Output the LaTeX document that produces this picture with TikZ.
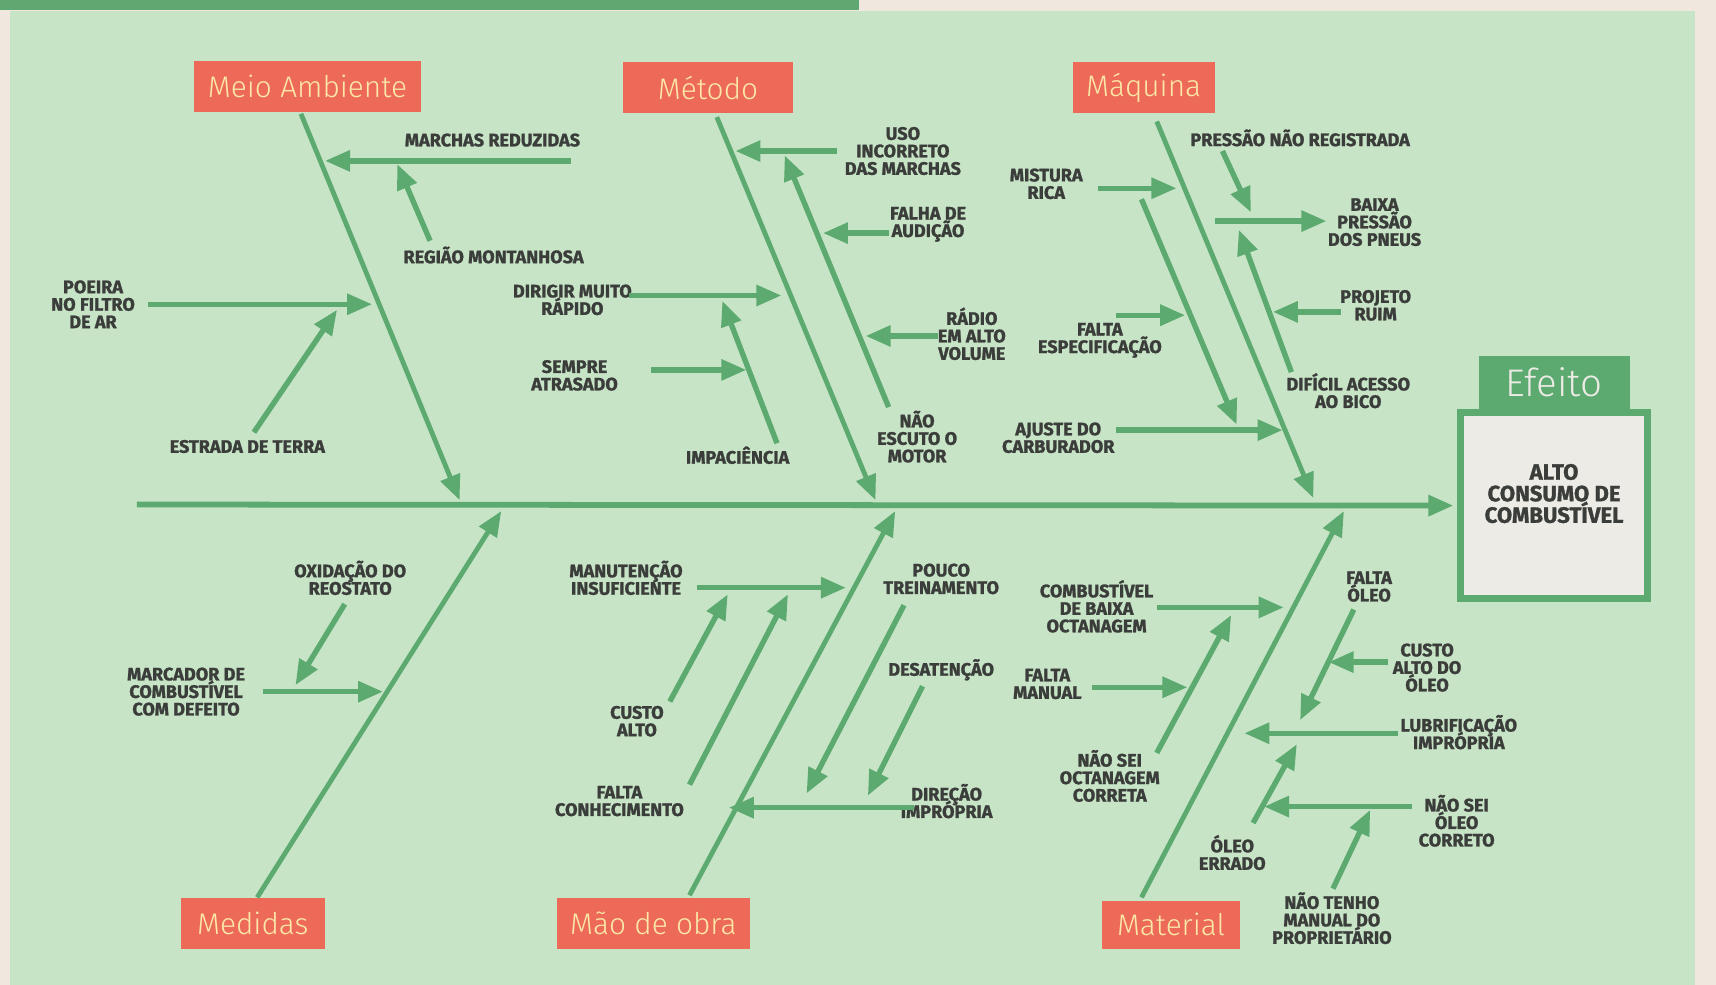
\documentclass[tikz,border=0pt]{standalone}
\usepackage{fontspec}
\newfontfamily\causefont[BoldFeatures={FakeBold=1.3}]{Fira Sans}
\newfontfamily\catfont{Fira Sans Light}
\usetikzlibrary{arrows.meta}

\definecolor{mint}{HTML}{C7E4C6}
\definecolor{bone}{HTML}{5CAA70}
\definecolor{salmon}{HTML}{EC6A57}
\definecolor{pale}{HTML}{FBE7A8}
\definecolor{ink}{HTML}{3B3D3B}
\definecolor{paper}{HTML}{F0E8DF}
\definecolor{band}{HTML}{5FA872}
\definecolor{effill}{HTML}{EDEBE6}

\tikzset{
  cause/.style={font=\causefont\bfseries\fontsize{9.4}{9.1}\selectfont,
    text=ink, align=center, inner sep=0pt,
    execute at begin node=\setlength{\lineskiplimit}{-6pt}},
  cat/.style={fill=salmon, text=pale, inner sep=0pt, minimum height=0.94cm,
    font=\catfont\fontsize{15.5}{15.5}\selectfont},
  sub/.style={color=bone, line width=2.8pt, -{Triangle[length=13pt,width=10.5pt]}},
  spine/.style={sub, line width=3pt, shorten >=2pt}
}

\begin{document}
\begin{tikzpicture}[x=0.02cm, y=-0.02cm]
    \useasboundingbox (0,0) rectangle (1568,900);
    \fill[paper] (0,0) rectangle (1568,900);
    \fill[mint] (9,10) rectangle (1549,900);
    \fill[band] (0,0) rectangle (785,9);

    % categorias
    \node[cat, minimum width=4.16cm] (meio)     at (281,79)  {Meio Ambiente};
    \node[cat, minimum width=3.12cm] (metodo)   at (647,80)  {Método};
    \node[cat, minimum width=2.6cm]  (maquina)  at (1045,80) {Máquina};
    \node[cat, minimum width=2.64cm] (medidas)  at (231,844) {Medidas};
    \node[cat, minimum width=3.54cm] (maoobra)  at (597,844) {Mão de obra};
    \node[cat, minimum width=2.52cm, minimum height=0.88cm] (material) at (1070,845) {Material};

    % efeito
    \node[draw=bone, fill=effill, line width=3.4pt, minimum width=3.42cm,
      minimum height=3.4cm] (alvo) at (1420,462) {};
    \node[align=center, text=ink, inner sep=0pt,
      font=\causefont\bfseries\fontsize{11.5}{11.2}\selectfont,
      execute at begin node=\setlength{\lineskiplimit}{-6pt}] (alvotxt) at (1420,451)
      {ALTO\\CONSUMO DE\\COMBUSTÍVEL};
    \node[fill=bone, text=effill, minimum width=2.76cm, minimum height=0.96cm,
      inner sep=0pt, font=\catfont\fontsize{20}{20}\selectfont,
      anchor=south] (efeito) at (alvo.north) {Efeito};

    % espinha
    \coordinate (cauda) at (125,461);
    \draw[spine] (cauda) -- (alvo.west);

    \coordinate (meio-a) at (275,104);     \coordinate (meio-b) at (420,457);
    \coordinate (metodo-a) at (655,107);   \coordinate (metodo-b) at (800,457);
    \coordinate (maquina-a) at (1057,111); \coordinate (maquina-b) at (1200,455);
    \coordinate (medidas-a) at (235,820);  \coordinate (medidas-b) at (458,467);
    \coordinate (maoobra-a) at (630,818);  \coordinate (maoobra-b) at (818,467);
    \coordinate (material-a) at (1043,820);\coordinate (material-b) at (1228,467);
    \path[sub, line width=2.5pt]
      (meio-a) edge (meio-b)
      (metodo-a) edge (metodo-b)
      (maquina-a) edge (maquina-b)
      (medidas-a) edge (medidas-b)
      (maoobra-a) edge (maoobra-b)
      (material-a) edge (material-b);

    % meio ambiente
    \node[cause] (marchas) at (450,128) {MARCHAS REDUZIDAS};
    \node[cause] (regiao)  at (451,233) {REGIÃO MONTANHOSA};
    \node[cause] (poeira)  at (85,278)  {POEIRA\\NO FILTRO\\DE AR};
    \node[cause] (estrada) at (226,408) {ESTRADA DE TERRA};
    \coordinate (marchas-a) at (522,147); \coordinate (marchas-b) at (297,147);
    \coordinate (regiao-a) at (393,220);  \coordinate (regiao-b) at (363,150);
    \coordinate (poeira-a) at (135,278);  \coordinate (poeira-b) at (340,278);
    \coordinate (estrada-a) at (232,395); \coordinate (estrada-b) at (308,283);

    % metodo
    \node[cause] (uso)     at (825,138) {USO\\INCORRETO\\DAS MARCHAS};
    \node[cause] (falha)   at (848,205) {FALHA DE\\AUDIÇÃO};
    \node[cause] (radio)   at (888,305) {RÁDIO\\EM ALTO\\VOLUME};
    \node[cause] (escuto)  at (838,399) {NÃO\\ESCUTO O\\MOTOR};
    \node[cause] (dirigir) at (523,274) {DIRIGIR MUITO\\RÁPIDO};
    \node[cause] (sempre)  at (525,343) {SEMPRE\\ATRASADO};
    \node[cause] (impac)   at (674,416) {IMPACIÊNCIA};
    \coordinate (uso-a) at (765,138);     \coordinate (uso-b) at (672,138);
    \coordinate (escuto-a) at (812,372);  \coordinate (escuto-b) at (717,142);
    \coordinate (falha-a) at (812,213);   \coordinate (falha-b) at (752,213);
    \coordinate (radio-a) at (857,307);   \coordinate (radio-b) at (791,307);
    \coordinate (dirigir-a) at (575,270); \coordinate (dirigir-b) at (714,270);
    \coordinate (sempre-a) at (595,338);  \coordinate (sempre-b) at (682,338);
    \coordinate (impac-a) at (710,405);   \coordinate (impac-b) at (660,275);

    % maquina
    \node[cause] (pressao)  at (1188,126) {PRESSÃO NÃO REGISTRADA};
    \node[cause] (baixa)    at (1256,203) {BAIXA\\PRESSÃO\\DOS PNEUS};
    \node[cause] (mistura)  at (956,168)  {MISTURA\\RICA};
    \node[cause] (espec)    at (1005,311) {FALTA\\ESPECIFICAÇÃO};
    \node[cause] (ajuste)   at (967,400)  {AJUSTE DO\\CARBURADOR};
    \node[cause] (projeto)  at (1257,279) {PROJETO\\RUIM};
    \node[cause] (dificil)  at (1232,357) {DIFÍCIL ACESSO\\AO BICO};
    \coordinate (pressao-a) at (1117,138); \coordinate (pressao-b) at (1143,194);
    \coordinate (baixa-a) at (1110,202);   \coordinate (baixa-b) at (1212,202);
    \coordinate (mistura-a) at (1003,172); \coordinate (mistura-b) at (1075,172);
    \coordinate (rica-a) at (1043,182);    \coordinate (rica-b) at (1130,388);
    \coordinate (espec-a) at (1020,288);   \coordinate (espec-b) at (1083,288);
    \coordinate (ajuste-a) at (1020,393);  \coordinate (ajuste-b) at (1172,393);
    \coordinate (projeto-a) at (1225,285); \coordinate (projeto-b) at (1163,285);
    \coordinate (dificil-a) at (1180,340); \coordinate (dificil-b) at (1132,210);

    % medidas
    \node[cause] (oxid)     at (320,528) {OXIDAÇÃO DO\\REOSTATO};
    \node[cause] (marcador) at (170,632) {MARCADOR DE\\COMBUSTÍVEL\\COM DEFEITO};
    \coordinate (oxid-a) at (315,552);     \coordinate (oxid-b) at (270,626);
    \coordinate (marcador-a) at (240,632); \coordinate (marcador-b) at (350,632);

    % mao de obra
    \node[cause] (manut)   at (572,528) {MANUTENÇÃO\\INSUFICIENTE};
    \node[cause] (custo)   at (582,659) {CUSTO\\ALTO};
    \node[cause] (conhec)  at (566,732) {FALTA\\CONHECIMENTO};
    \node[cause] (pouco)   at (860,529) {POUCO\\TREINAMENTO};
    \node[cause] (desat)   at (860,612) {DESATENÇÃO};
    \node[cause] (direcao) at (865,732) {DIREÇÃO\\IMPRÓPRIA};
    \coordinate (manut-a) at (637,537);   \coordinate (manut-b) at (773,537);
    \coordinate (custo-a) at (612,641);   \coordinate (custo-b) at (665,543);
    \coordinate (conhec-a) at (630,717);  \coordinate (conhec-b) at (720,543);
    \coordinate (pouco-a) at (826,553);   \coordinate (pouco-b) at (737,725);
    \coordinate (desat-a) at (843,627);   \coordinate (desat-b) at (793,727);
    \coordinate (direcao-a) at (835,738); \coordinate (direcao-b) at (666,738);

    % material
    \node[cause] (octan)    at (1002,554) {COMBUSTÍVEL\\DE BAIXA\\OCTANAGEM};
    \node[cause] (manual)   at (957,625)  {FALTA\\MANUAL};
    \node[cause] (naosei)   at (1014,709) {NÃO SEI\\OCTANAGEM\\CORRETA};
    \node[cause] (faltaol)  at (1251,536) {FALTA\\ÓLEO};
    \node[cause] (custool)  at (1304,610) {CUSTO\\ALTO DO\\ÓLEO};
    \node[cause] (lubri)    at (1333,669) {LUBRIFICAÇÃO\\IMPRÓPRIA};
    \node[cause] (errado)   at (1126,779) {ÓLEO\\ERRADO};
    \node[cause] (correto)  at (1331,750) {NÃO SEI\\ÓLEO\\CORRETO};
    \node[cause] (naotenho) at (1217,839) {NÃO TENHO\\MANUAL DO\\PROPRIETÁRIO};
    \coordinate (octan-a) at (1057,555);    \coordinate (octan-b) at (1173,555);
    \coordinate (manual-a) at (998,628);    \coordinate (manual-b) at (1085,628);
    \coordinate (naosei-a) at (1057,688);   \coordinate (naosei-b) at (1125,562);
    \coordinate (faltaol-a) at (1237,557);  \coordinate (faltaol-b) at (1188,658);
    \coordinate (custool-a) at (1268,605);  \coordinate (custool-b) at (1214,605);
    \coordinate (lubri-a) at (1277,670);    \coordinate (lubri-b) at (1137,670);
    \coordinate (errado-a) at (1145,752);   \coordinate (errado-b) at (1185,680);
    \coordinate (correto-a) at (1290,737);  \coordinate (correto-b) at (1155,737);
    \coordinate (naotenho-a) at (1218,812); \coordinate (naotenho-b) at (1252,740);

    \path[sub]
      (marchas-a) edge (marchas-b)
      (regiao-a) edge (regiao-b)
      (poeira-a) edge (poeira-b)
      (estrada-a) edge (estrada-b)
      (uso-a) edge (uso-b)
      (escuto-a) edge (escuto-b)
      (falha-a) edge (falha-b)
      (radio-a) edge (radio-b)
      (dirigir-a) edge (dirigir-b)
      (sempre-a) edge (sempre-b)
      (impac-a) edge (impac-b)
      (pressao-a) edge (pressao-b)
      (baixa-a) edge (baixa-b)
      (mistura-a) edge (mistura-b)
      (rica-a) edge (rica-b)
      (espec-a) edge (espec-b)
      (ajuste-a) edge (ajuste-b)
      (projeto-a) edge (projeto-b)
      (dificil-a) edge (dificil-b)
      (oxid-a) edge (oxid-b)
      (marcador-a) edge (marcador-b)
      (manut-a) edge (manut-b)
      (custo-a) edge (custo-b)
      (conhec-a) edge (conhec-b)
      (pouco-a) edge (pouco-b)
      (desat-a) edge (desat-b)
      (direcao-a) edge (direcao-b)
      (octan-a) edge (octan-b)
      (manual-a) edge (manual-b)
      (naosei-a) edge (naosei-b)
      (faltaol-a) edge (faltaol-b)
      (custool-a) edge (custool-b)
      (lubri-a) edge (lubri-b)
      (errado-a) edge (errado-b)
      (correto-a) edge (correto-b)
      (naotenho-a) edge (naotenho-b);
\end{tikzpicture}
\end{document}
